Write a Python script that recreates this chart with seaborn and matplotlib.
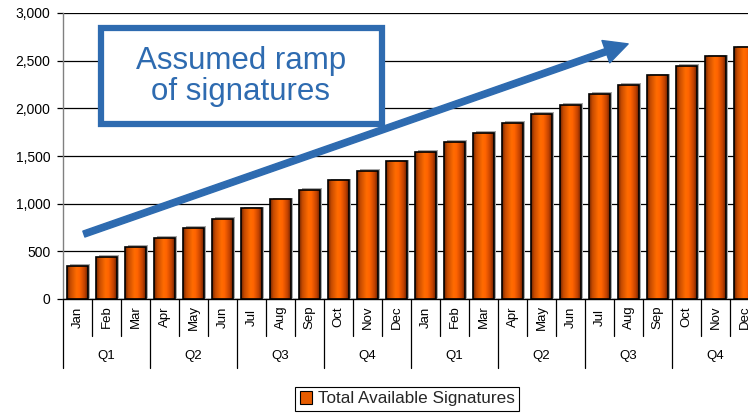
import numpy as np
import pandas as pd
import matplotlib
matplotlib.use("Agg")
import matplotlib.pyplot as plt
from matplotlib.patches import Rectangle, Patch, FancyArrowPatch
from matplotlib.lines import Line2D
from matplotlib.colors import LinearSegmentedColormap
import seaborn as sns

# Monthly signatures over two years
months = ["Jan", "Feb", "Mar", "Apr", "May", "Jun",
          "Jul", "Aug", "Sep", "Oct", "Nov", "Dec"] * 2
quarters = ["Q1", "Q2", "Q3", "Q4", "Q1", "Q2", "Q3", "Q4"]
signatures = [345, 445, 545, 645, 745, 840, 950, 1045, 1145, 1245, 1345, 1445,
              1545, 1645, 1745, 1845, 1945, 2040, 2150, 2245, 2345, 2445, 2545, 2640]
yticks = [0, 500, 1000, 1500, 2000, 2500, 3000]
series_name = "Total Available Signatures"
callout = "Assumed ramp\nof signatures"

BLUE = "#2E6BB0"

sns.set_theme(style="white")
plt.rcParams["font.family"] = ["Liberation Sans", "DejaVu Sans"]

fig = plt.figure(figsize=(7.48, 4.13), dpi=100)
W, H = 748, 413
ax = fig.add_axes([63 / W, 1 - 299 / H, 696 / W, 286 / H])

df = pd.DataFrame({"slot": range(len(signatures)), "month": months,
                   "signatures": signatures})
sns.barplot(data=df, x="slot", y="signatures", color="#FF6600", width=0.69,
            edgecolor="black", linewidth=1.2, ax=ax, zorder=3)

# Horizontal shading on each bar (dark edges, bright centre) plus a soft shadow
cmap = LinearSegmentedColormap.from_list(
    "bar", [(0.0, "#6E2400"), (0.15, "#C44A00"), (0.45, "#FF6C00"),
            (0.6, "#FF6400"), (0.85, "#C24200"), (1.0, "#6A2000")])
grad = np.linspace(0, 1, 64).reshape(1, -1)
for p in list(ax.patches):
    x0, w, h = p.get_x(), p.get_width(), p.get_height()
    ax.add_patch(Rectangle((x0 + 0.07, 0), w, h + 18, facecolor="#A8A8A8",
                           edgecolor="none", zorder=2.9))
    im = ax.imshow(grad, extent=[x0, x0 + w, 0, h], aspect="auto", cmap=cmap,
                   interpolation="bilinear", zorder=3.1)
    im.set_clip_path(p)
    p.set_facecolor("none")
    p.set_zorder(3.2)

ax.set_xlim(-0.5, len(signatures) - 0.5)
ax.set_ylim(0, 3000)

# Y axis
ax.set_yticks(yticks)
ax.set_yticklabels([f"{v:,}" for v in yticks], fontsize=10, color="black")
ax.tick_params(axis="y", left=True, length=4, width=0.9, color="black", pad=5)
ax.grid(axis="y", color="black", lw=0.9)
ax.set_axisbelow(True)
ax.set_ylabel("")
for s in ("top", "right"):
    ax.spines[s].set_visible(False)
ax.spines["left"].set_color("#808080")
ax.spines["bottom"].set_color("black")
ax.spines["left"].set_linewidth(1.0)
ax.spines["bottom"].set_linewidth(1.0)

# Two-level category axis: months and quarters
ax.set_xticks([])
ax.set_xlabel("")
trans = ax.get_xaxis_transform()
for i, m in enumerate(months):
    ax.text(i, -0.063, m, rotation=90, ha="center", va="center",
            transform=trans, fontsize=9.5, color="black")
for b in range(len(months) + 1):
    low = -0.241 if b % 3 == 0 else -0.129
    ax.add_line(Line2D([b - 0.5, b - 0.5], [0, low], transform=trans,
                       clip_on=False, color="black", lw=0.9))
for q, name in enumerate(quarters):
    ax.text(3 * q + 1, -0.199, name, ha="center", va="center",
            transform=trans, fontsize=9.5, color="black")

# Callout box and trend arrow
ax.add_patch(Rectangle((0.0546, 0.612), 0.458 - 0.0546, 0.9476 - 0.612,
                       transform=ax.transAxes, facecolor="white",
                       edgecolor=BLUE, lw=4.5, zorder=5))
ax.text(0.2557, 0.777, callout, transform=ax.transAxes, ha="center",
        va="center", fontsize=22.5, color=BLUE, zorder=6, linespacing=1.05)
arrow = FancyArrowPatch((0.030, 0.227), (0.812, 0.892), transform=ax.transAxes,
                        arrowstyle="simple,tail_width=4.5,head_width=17,head_length=17",
                        mutation_scale=1, color=BLUE, shrinkA=0, shrinkB=0,
                        zorder=7, clip_on=False)
ax.add_patch(arrow)

# Legend
handle = Patch(facecolor="#E65C00", edgecolor="black", lw=0.8)
leg = fig.legend(handles=[handle], labels=[series_name], loc="upper center",
                 bbox_to_anchor=(407 / W, 1 - 387 / H), frameon=True,
                 fancybox=False, edgecolor="black", fontsize=12.3,
                 handlelength=0.75, handleheight=0.75, handletextpad=0.3,
                 borderpad=0.25, borderaxespad=0, framealpha=1)
leg.get_frame().set_linewidth(0.8)

fig.savefig("out.png", dpi=100)
